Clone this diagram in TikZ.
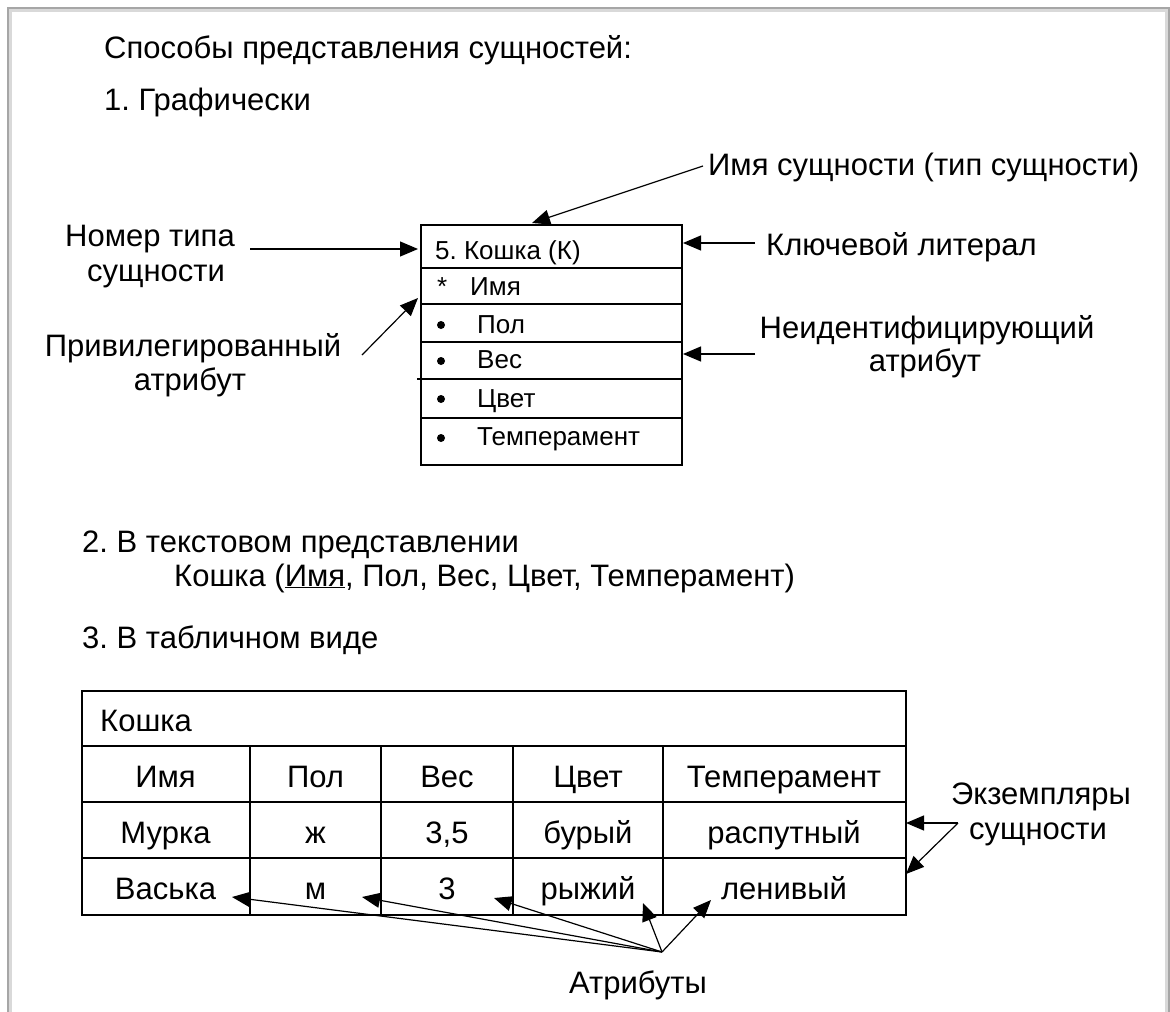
\documentclass[tikz,border=0pt]{standalone}
\usepackage{fontspec}
\setmainfont{Liberation Sans}
\usetikzlibrary{arrows.meta}
\frenchspacing
\begin{document}
\begin{tikzpicture}[x=1pt,y=-1pt,
  lab/.style={font=\fontsize{31}{36}\selectfont, inner sep=0pt},
  boxt/.style={font=\fontsize{26}{30}\selectfont, inner sep=0pt, anchor=base west},
  cell/.style={font=\fontsize{31}{36}\selectfont, inner sep=0pt, anchor=base},
  arr/.style={-{Triangle[length=18pt,width=15pt]}, line width=1.2pt},
  ln/.style={line width=1.6pt},
  bul/.style={fill=black}]
\useasboundingbox (0,0) rectangle (1170,1012);
% frame
\draw[line width=2pt, gray!70] (8,1012) -- (8,8) -- (1168.5,8) -- (1168.5,1012);
\draw[line width=3pt, gray!30] (10.5,1012) -- (10.5,10.5) -- (1166,10.5) -- (1166,1012);

% headings
\node[lab, anchor=base west] (title) at (104,58) {Способы представления сущностей:};
\node[lab, anchor=base west] (g1) at (104,110) {1. Графически};

% entity box
\node[draw, line width=1.6pt, minimum width=261pt, minimum height=240pt, anchor=north west, inner sep=0pt] (ent) at (420,224) {};
\draw[ln] (420,268) -- (681,268);
\draw[ln] (420,304) -- (681,304);
\draw[ln] (420,342) -- (681,342);
\draw[ln] (417,379) -- (681,379);
\draw[ln] (420,418) -- (681,418);
\node[boxt] (e0) at (435,259) {5. Кошка (К)};
\node[boxt] (e1s) at (437,295) {*};
\node[boxt] (e1) at (470,295) {Имя};
\fill[bul] (441,325) circle[radius=4pt];
\node[boxt] (e2) at (477,333) {Пол};
\fill[bul] (441,361) circle[radius=4pt];
\node[boxt] (e3) at (477,368) {Вес};
\fill[bul] (441,399) circle[radius=4pt];
\node[boxt] (e4) at (477,407) {Цвет};
\fill[bul] (441,438) circle[radius=4pt];
\node[boxt] (e5) at (477,445) {Темперамент};

% labels around entity
\node[lab, anchor=base west] (lname) at (708,175) {Имя сущности (тип сущности)};
\node[lab, anchor=base west] (lkey) at (766,255) {Ключевой литерал};
\node[lab, anchor=base] (lnon1) at (927,338) {Неидентифицирующий};
\node[lab, anchor=base] (lnon2) at (925,371) {атрибут};
\node[lab, anchor=base] (lnum1) at (150,246) {Номер типа};
\node[lab, anchor=base] (lnum2) at (156,281) {сущности};
\node[lab, anchor=base] (lpriv1) at (193,356) {Привилегированный};
\node[lab, anchor=base] (lpriv2) at (190,390) {атрибут};

\coordinate (an0) at (703,166); \coordinate (an1) at (532,223);
\coordinate (ak0) at (755,243); \coordinate (ak1) at (683,243);
\coordinate (aq0) at (755,354); \coordinate (aq1) at (683,354);
\coordinate (am0) at (250,249); \coordinate (am1) at (418,249);
\coordinate (ap0) at (362,355); \coordinate (ap1) at (418,298);
\draw[arr] (an0) -- (an1);
\draw[arr] (ak0) -- (ak1);
\draw[arr] (aq0) -- (aq1);
\draw[arr] (am0) -- (am1);
\draw[arr] (ap0) -- (ap1);

% text representation
\node[lab, anchor=base west] (s2) at (82,552) {2. В текстовом представлении};
\node[lab, anchor=base west] (s2b) at (174,586) {Кошка (\underline{Имя}, Пол, Вес, Цвет, Темперамент)};
\node[lab, anchor=base west] (s3) at (82,648) {3. В табличном виде};

% table
\node[draw, line width=1.6pt, minimum width=824pt, minimum height=224pt, anchor=north west, inner sep=0pt] (tbl) at (81,690) {};
\draw[ln] (81,746) -- (905,746);
\draw[ln] (81,802) -- (905,802);
\draw[ln] (81,858) -- (905,858);
\draw[ln] (250,746) -- (250,914);
\draw[ln] (381,746) -- (381,914);
\draw[ln] (513,746) -- (513,914);
\draw[ln] (663,746) -- (663,914);
\node[cell, anchor=base west] (th) at (100,731) {Кошка};
\node[cell] (h1) at (165.5,787) {Имя};
\node[cell] (h2) at (315.5,787) {Пол};
\node[cell] (h3) at (447,787) {Вес};
\node[cell] (h4) at (588,787) {Цвет};
\node[cell] (h5) at (784,787) {Темперамент};
\node[cell] (a1) at (165.5,843) {Мурка};
\node[cell] (a2) at (315.5,843) {ж};
\node[cell] (a3) at (447,843) {3,5};
\node[cell] (a4) at (588,843) {бурый};
\node[cell] (a5) at (784,843) {распутный};
\node[cell] (b1) at (165.5,899) {Васька};
\node[cell] (b2) at (315.5,899) {м};
\node[cell] (b3) at (447,899) {3};
\node[cell] (b4) at (588,899) {рыжий};
\node[cell] (b5) at (784,899) {ленивый};

% instances
\node[lab, anchor=base] (ex1) at (1041,804) {Экземпляры};
\node[lab, anchor=base] (ex2) at (1038,839) {сущности};
\coordinate (ec) at (958,823);
\coordinate (et1) at (906,823);
\coordinate (et2) at (906,874);
\draw[arr] (ec) -- (et1);
\draw[arr] (ec) -- (et2);

% attributes
\node[lab, anchor=base] (attr) at (638,993) {Атрибуты};
\coordinate (ac) at (662,952);
\coordinate (t1) at (232,897);
\coordinate (t2) at (362,897);
\coordinate (t3) at (494,898);
\coordinate (t4) at (643,903);
\coordinate (t5) at (711,900);
\draw[arr] (ac) -- (t1);
\draw[arr] (ac) -- (t2);
\draw[arr] (ac) -- (t3);
\draw[arr] (ac) -- (t4);
\draw[arr] (ac) -- (t5);
\end{tikzpicture}
\end{document}
